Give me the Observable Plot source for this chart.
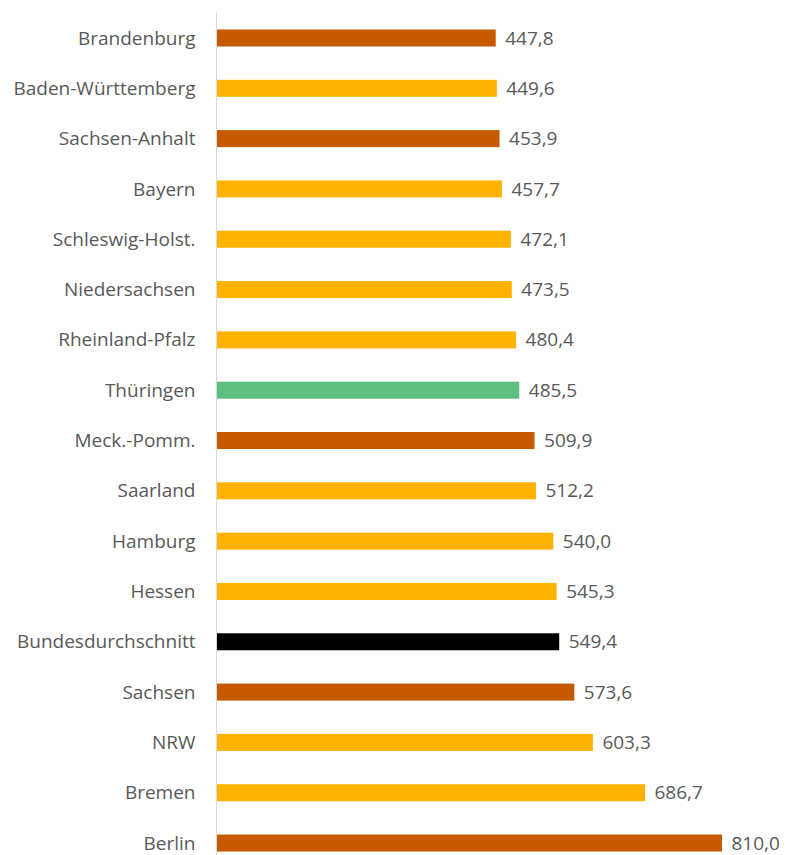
<!DOCTYPE html>
<html>
<head>
<meta charset="utf-8">
<script src="https://cdn.jsdelivr.net/npm/d3@7"></script>
<script src="https://cdn.jsdelivr.net/npm/@observablehq/plot@0.6"></script>
<style>
  html, body { margin: 0; padding: 0; background: #fff; }
  #chart svg { display: block; }
</style>
</head>
<body>
<div id="chart"></div>
<script>
const states = ["Brandenburg","Baden-Württemberg","Sachsen-Anhalt","Bayern","Schleswig-Holst.","Niedersachsen","Rheinland-Pfalz","Thüringen","Meck.-Pomm.","Saarland","Hamburg","Hessen","Bundesdurchschnitt","Sachsen","NRW","Bremen","Berlin"];
const values = [447.8,449.6,453.9,457.7,472.1,473.5,480.4,485.5,509.9,512.2,540.0,545.3,549.4,573.6,603.3,686.7,810.0];
const groups = ["Ost","West","Ost","West","West","West","West","Thüringen","Ost","West","West","West","Bund","Ost","West","West","Ost"];
const groupNames = ["Ost","West","Thüringen","Bund"];
const groupColors = ["#c55a00","#ffb300","#5fbf80","#000000"];

const data = states.map((s, i) => ({state: s, value: values[i], group: groups[i]}));
const fmt = v => v.toFixed(1).replace(".", ",");

const chart = Plot.plot({
  width: 789,
  height: 855,
  marginLeft: 216,
  marginRight: 67,
  marginTop: 12,
  marginBottom: 0,
  style: {fontFamily: "'Open Sans', sans-serif", fontSize: "19px", color: "#595959", background: "#fff"},
  x: {domain: [0, 810], axis: null},
  y: {domain: states, paddingInner: 0.662, paddingOuter: 0.208, align: 0.835, round: false, label: null, tickSize: 0, tickPadding: 21},
  color: {domain: groupNames, range: groupColors},
  marks: [
    Plot.barX(data, {y: "state", x: "value", fill: "group"}),
    Plot.ruleX([0], {stroke: "#d9d9d9", strokeWidth: 1}),
    Plot.text(data, {y: "state", x: "value", text: d => fmt(d.value), textAnchor: "start", dx: 9, fill: "#595959", fontSize: 19}),
    Plot.axisY({tickSize: 0, tickPadding: 21, fontSize: 19, label: null, color: "#595959"})
  ]
});
document.getElementById("chart").appendChild(chart);
</script>
</body>
</html>
